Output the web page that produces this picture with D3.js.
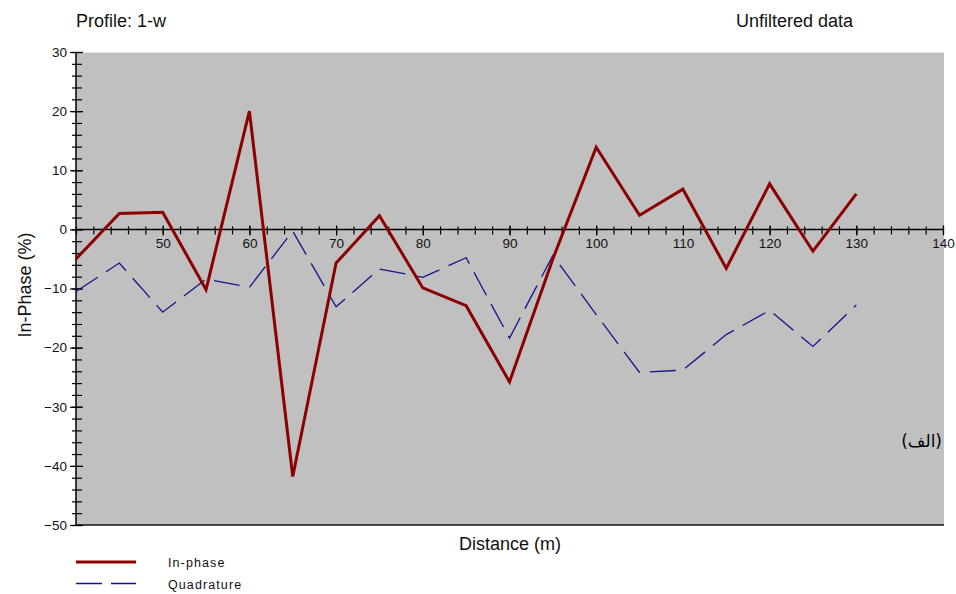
<!DOCTYPE html>
<html>
<head>
<meta charset="utf-8">
<script src="https://cdn.jsdelivr.net/npm/d3@7"></script>
<style>
  html, body { margin: 0; padding: 0; background: #ffffff; }
  svg { display: block; font-family: "Liberation Sans", Arial, sans-serif; }
</style>
</head>
<body>
<svg id="chart" width="956" height="594"></svg>
<script>
// Profile 1-w survey readings, one every 5 m
const distance = [40, 45, 50, 55, 60, 65, 70, 75, 80, 85, 90, 95, 100, 105, 110, 115, 120, 125, 130];
const inPhase = [-5.0, 2.7, 2.9, -10.2, 20.0, -41.8, -5.7, 2.3, -9.9, -12.9, -25.8, -5.0, 13.9, 2.4, 6.8, -6.6, 7.7, -3.7, 6.0];
const quadrature = [-10.5, -5.7, -14.0, -8.4, -9.8, -0.3, -13.1, -6.7, -8.1, -4.8, -18.4, -4.4, -14.4, -24.2, -23.8, -17.8, -13.7, -19.8, -12.8];

const xMajorTicks = [50, 60, 70, 80, 90, 100, 110, 120, 130, 140];
const xMinorTicks = d3.range(40, 141, 2);
const yMajorTicks = [-50, -40, -30, -20, -10, 0, 10, 20, 30];
const yMinorTicks = d3.range(-50, 31, 2);

const svg = d3.select("#chart");

const x = d3.scaleLinear().domain([40, 140]).range([76, 943]);
const y = d3.scaleLinear().domain([-50, 30]).range([525, 52]);

// plot background
svg.append("rect")
  .attr("x", x(40)).attr("y", y(30))
  .attr("width", 944 - x(40)).attr("height", y(-50) - y(30))
  .attr("fill", "#c0c0c0");
svg.append("line")
  .attr("x1", x(40)).attr("x2", 944).attr("y1", y(30) + 0.5).attr("y2", y(30) + 0.5)
  .attr("stroke", "#e4e4e4").attr("stroke-width", 1);
svg.append("line")
  .attr("x1", x(40)).attr("x2", 944).attr("y1", y(-50)).attr("y2", y(-50))
  .attr("stroke", "#111").attr("stroke-width", 1.5);

function styleAxis(g) {
  g.select(".domain").remove();
  g.selectAll(".tick line").attr("stroke", "#000").attr("stroke-width", 1.2);
  g.selectAll(".tick text")
    .attr("fill", "#111")
    .style("font-size", "13.5px")
    .style("font-family", "'Liberation Sans', Arial, sans-serif");
}

// y axis: ticks cross the axis line
const yAxisG = svg.append("g").attr("transform", `translate(${x(40)},0)`);
yAxisG.append("g").call(d3.axisLeft(y).tickValues(yMinorTicks).tickSize(4).tickFormat("")).call(styleAxis);
yAxisG.append("g").call(d3.axisRight(y).tickValues(yMinorTicks).tickSize(6).tickFormat("")).call(styleAxis);
yAxisG.append("g").call(d3.axisLeft(y).tickValues(yMajorTicks).tickSize(6).tickPadding(3).tickFormat(d3.format("d"))).call(styleAxis);
yAxisG.append("g").call(d3.axisRight(y).tickValues(yMajorTicks).tickSize(7).tickFormat("")).call(styleAxis);
yAxisG.append("line")
  .attr("x1", 0).attr("x2", 0).attr("y1", y(30)).attr("y2", y(-50))
  .attr("stroke", "#000").attr("stroke-width", 1.5);

// x axis along the zero line
const xAxisG = svg.append("g").attr("transform", `translate(0,${y(0)})`);
xAxisG.append("line")
  .attr("x1", x(40)).attr("x2", x(140)).attr("y1", 0).attr("y2", 0)
  .attr("stroke", "#000").attr("stroke-width", 1.5);
xAxisG.append("g").call(d3.axisTop(x).tickValues(xMinorTicks).tickSize(3).tickFormat("")).call(styleAxis);
xAxisG.append("g").call(d3.axisBottom(x).tickValues(xMinorTicks).tickSize(5).tickFormat("")).call(styleAxis);
xAxisG.append("g").call(d3.axisTop(x).tickValues(xMajorTicks).tickSize(4).tickFormat("")).call(styleAxis);
xAxisG.append("g").call(d3.axisBottom(x).tickValues(xMajorTicks).tickSize(6).tickPadding(3).tickFormat(d3.format("d"))).call(styleAxis);

// series
const line = d3.line().x((d, i) => x(distance[i])).y(d => y(d));

svg.append("path")
  .datum(quadrature)
  .attr("d", line)
  .attr("fill", "none")
  .attr("stroke", "#14148c")
  .attr("stroke-width", 1.3)
  .attr("stroke-dasharray", "26,10");

svg.append("path")
  .datum(inPhase)
  .attr("d", line)
  .attr("fill", "none")
  .attr("stroke", "#8b0000")
  .attr("stroke-width", 3)
  .attr("stroke-linejoin", "miter");

// titles and axis labels
svg.append("text").attr("x", 76).attr("y", 27)
  .style("font-size", "18px").attr("fill", "#111").text("Profile: 1-w");
svg.append("text").attr("x", 853).attr("y", 27).attr("text-anchor", "end")
  .style("font-size", "18px").attr("fill", "#111").text("Unfiltered data");
svg.append("text").attr("x", 510).attr("y", 550).attr("text-anchor", "middle")
  .style("font-size", "18px").attr("fill", "#111").text("Distance (m)");
svg.append("text")
  .attr("transform", "translate(31,285) rotate(-90)")
  .attr("text-anchor", "middle")
  .style("font-size", "18px").attr("fill", "#111").text("In-Phase (%)");
svg.append("text").attr("x", 942).attr("y", 447)
  .attr("direction", "rtl").attr("unicode-bidi", "embed")
  .attr("text-anchor", "start")
  .style("font-family", "'DejaVu Sans', 'Noto Sans', sans-serif")
  .style("font-size", "17px").attr("fill", "#000").text("(الف)");

// legend
const legend = svg.append("g");
legend.append("line").attr("x1", 76).attr("x2", 136).attr("y1", 562).attr("y2", 562)
  .attr("stroke", "#8b0000").attr("stroke-width", 3);
legend.append("line").attr("x1", 76).attr("x2", 136).attr("y1", 583.5).attr("y2", 583.5)
  .attr("stroke", "#14148c").attr("stroke-width", 1.3).attr("stroke-dasharray", "26,9");
legend.append("text").attr("x", 168).attr("y", 567)
  .style("font-size", "12.5px").style("letter-spacing", "1.1px").attr("fill", "#111").text("In-phase");
legend.append("text").attr("x", 168).attr("y", 589)
  .style("font-size", "12.5px").style("letter-spacing", "1.1px").attr("fill", "#111").text("Quadrature");
</script>
</body>
</html>
